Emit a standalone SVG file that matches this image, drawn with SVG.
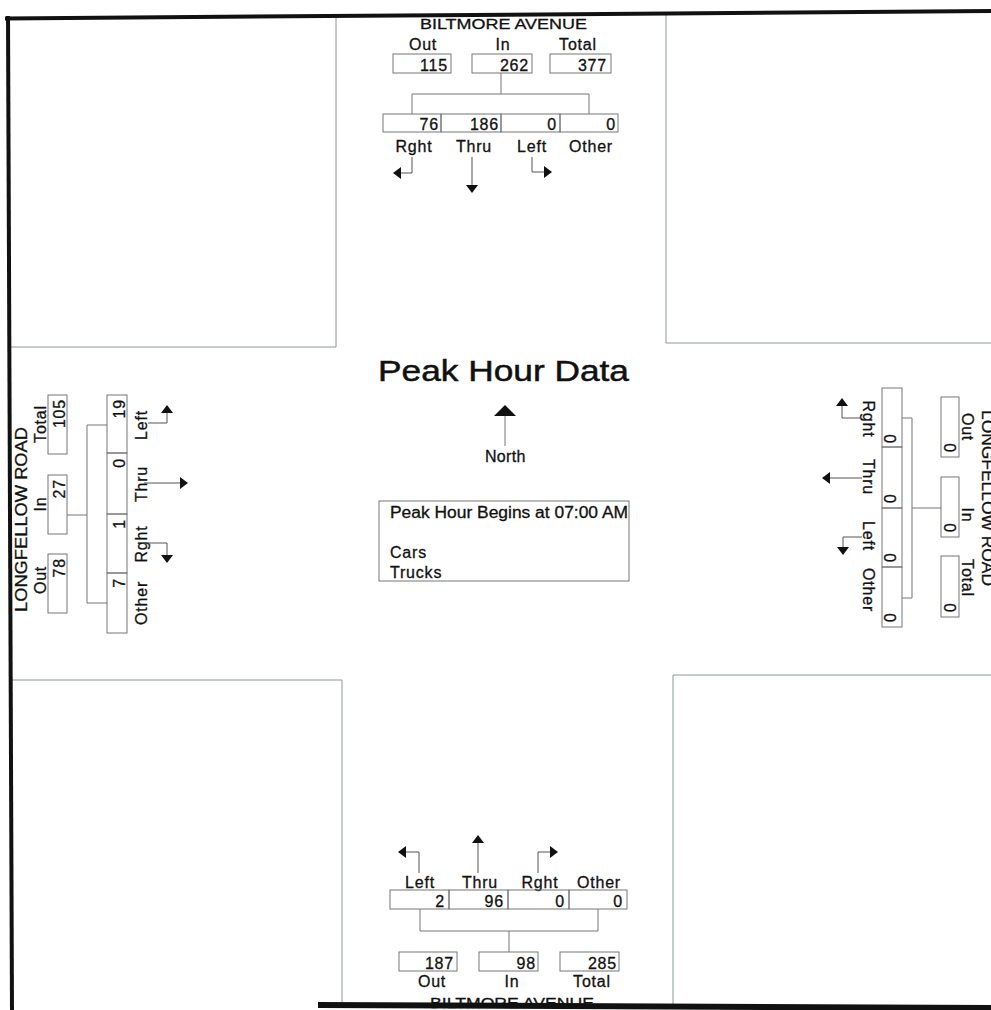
<svg xmlns="http://www.w3.org/2000/svg" width="991" height="1010" viewBox="0 0 991 1010">
<style>
.t{font-family:"Liberation Sans",Arial,sans-serif;font-size:16px;fill:#111;stroke:#111;stroke-width:0.3;letter-spacing:0.8px}
.m{text-anchor:middle}
.e{text-anchor:end}
.box{fill:none;stroke:#777;stroke-width:1}
.corner{fill:none;stroke:#8c9696;stroke-width:1}
.frame{fill:none;stroke:#111;stroke-width:4}
.conn{fill:none;stroke:#777;stroke-width:1}
.arr{fill:none;stroke:#555;stroke-width:1;marker-end:url(#ah)}
</style>
<defs>
<marker id="ah" markerUnits="userSpaceOnUse" viewBox="0 0 8 12" markerWidth="8" markerHeight="12" refX="0" refY="6" orient="auto">
<path d="M0,0 L8,6 L0,12 z" fill="#111"/>
</marker>
</defs>
<rect width="991" height="1010" fill="#fff"/>

<g id="corners">
<path class="corner" d="M336,17 V347 H10"/>
<path class="corner" d="M666,12 V343 H991"/>
<path class="corner" d="M10,680 H342 V1008"/>
<path class="corner" d="M673,1008 V675 H991"/>
</g>

<g id="title">
<text class="t" x="378" y="381" textLength="251" lengthAdjust="spacingAndGlyphs" style="font-size:30px;letter-spacing:0;stroke-width:0.5">Peak Hour Data</text>
</g>

<g id="north-arrow">
<polygon points="505,405 494,416 516,416" fill="#111"/>
<line x1="505" y1="416" x2="505" y2="446" stroke="#777" stroke-width="1"/>
<text class="t" x="485" y="462" style="letter-spacing:0.3px">North</text>
</g>

<g id="info-box">
<rect class="box" x="379" y="501" width="250" height="80" stroke="#888"/>
<text class="t" x="390" y="518" textLength="238" lengthAdjust="spacingAndGlyphs" style="letter-spacing:0">Peak Hour Begins at 07:00 AM</text>
<text class="t" x="390" y="558">Cars</text>
<text class="t" x="390" y="578">Trucks</text>
</g>

<g id="north-approach">
<text class="t" x="420" y="29" textLength="167" lengthAdjust="spacingAndGlyphs" style="font-size:15px;letter-spacing:0">BILTMORE AVENUE</text>
<text class="t m" x="423" y="50">Out</text>
<text class="t m" x="503" y="50">In</text>
<text class="t m" x="578" y="50">Total</text>
<rect class="box" x="393" y="54" width="58" height="19"/>
<rect class="box" x="472" y="54" width="60" height="19"/>
<rect class="box" x="550" y="54" width="61" height="19"/>
<text class="t e" x="448" y="71">115</text>
<text class="t e" x="529" y="71">262</text>
<text class="t e" x="607" y="71">377</text>
<rect class="box" x="383" y="114" width="58" height="18"/>
<rect class="box" x="441" y="114" width="60" height="18"/>
<rect class="box" x="501" y="114" width="59" height="18"/>
<rect class="box" x="560" y="114" width="58" height="18"/>
<text class="t e" x="439" y="130">76</text>
<text class="t e" x="499" y="130">186</text>
<text class="t e" x="557" y="130">0</text>
<text class="t e" x="616" y="130">0</text>
<text class="t m" x="414" y="152">Rght</text>
<text class="t m" x="474" y="152">Thru</text>
<text class="t m" x="532" y="152">Left</text>
<text class="t m" x="591" y="152">Other</text>
</g>

<g id="south-approach">
<text class="t m" x="420" y="888">Left</text>
<text class="t m" x="480" y="888">Thru</text>
<text class="t m" x="540" y="888">Rght</text>
<text class="t m" x="599" y="888">Other</text>
<rect class="box" x="390" y="890" width="59" height="19"/>
<rect class="box" x="449" y="890" width="59" height="19"/>
<rect class="box" x="508" y="890" width="61" height="19"/>
<rect class="box" x="569" y="890" width="58" height="19"/>
<text class="t e" x="445" y="907">2</text>
<text class="t e" x="504" y="907">96</text>
<text class="t e" x="565" y="907">0</text>
<text class="t e" x="623" y="907">0</text>
<rect class="box" x="399" y="952" width="58" height="19"/>
<rect class="box" x="479" y="952" width="59" height="19"/>
<rect class="box" x="560" y="952" width="59" height="19"/>
<text class="t e" x="454" y="969">187</text>
<text class="t e" x="536" y="969">98</text>
<text class="t e" x="617" y="969">285</text>
<text class="t m" x="432" y="987">Out</text>
<text class="t m" x="512" y="987">In</text>
<text class="t m" x="592" y="987">Total</text>
<text class="t" x="430" y="1008" textLength="164" lengthAdjust="spacingAndGlyphs" style="font-size:15px;letter-spacing:0">BILTMORE AVENUE</text>
</g>

<g id="west-approach">
<text class="t" transform="translate(27,612) rotate(-90)" textLength="185" lengthAdjust="spacingAndGlyphs" style="letter-spacing:0">LONGFELLOW ROAD</text>
<text class="t m" transform="translate(46,424) rotate(-90)">Total</text>
<text class="t m" transform="translate(46,504) rotate(-90)">In</text>
<text class="t m" transform="translate(46,580) rotate(-90)">Out</text>
<rect class="box" x="48" y="395" width="19" height="59"/>
<rect class="box" x="48" y="475" width="19" height="59"/>
<rect class="box" x="48" y="554" width="19" height="59"/>
<text class="t e" transform="translate(65,399) rotate(-90)">105</text>
<text class="t e" transform="translate(65,479) rotate(-90)">27</text>
<text class="t e" transform="translate(65,558) rotate(-90)">78</text>
<rect class="box" x="107" y="395" width="20" height="58"/>
<rect class="box" x="107" y="453" width="20" height="61"/>
<rect class="box" x="107" y="514" width="20" height="59"/>
<rect class="box" x="107" y="573" width="20" height="60"/>
<text class="t e" transform="translate(125,399) rotate(-90)">19</text>
<text class="t e" transform="translate(125,458) rotate(-90)">0</text>
<text class="t e" transform="translate(125,519) rotate(-90)">1</text>
<text class="t e" transform="translate(125,578) rotate(-90)">7</text>
<text class="t m" transform="translate(147,425) rotate(-90)">Left</text>
<text class="t m" transform="translate(147,484) rotate(-90)">Thru</text>
<text class="t m" transform="translate(147,544) rotate(-90)">Rght</text>
<text class="t m" transform="translate(147,603) rotate(-90)">Other</text>
</g>

<g id="east-approach">
<text class="t" transform="translate(982,410) rotate(90)" textLength="176" lengthAdjust="spacingAndGlyphs" style="letter-spacing:0">LONGFELLOW ROAD</text>
<rect class="box" x="941" y="397" width="18" height="60"/>
<rect class="box" x="941" y="477" width="18" height="60"/>
<rect class="box" x="941" y="556" width="18" height="61"/>
<text class="t m" transform="translate(962,427) rotate(90)">Out</text>
<text class="t m" transform="translate(962,515) rotate(90)">In</text>
<text class="t m" transform="translate(962,578) rotate(90)">Total</text>
<text class="t e" transform="translate(944,453) rotate(90)">0</text>
<text class="t e" transform="translate(944,533) rotate(90)">0</text>
<text class="t e" transform="translate(944,613) rotate(90)">0</text>
<rect class="box" x="882" y="388" width="20" height="59"/>
<rect class="box" x="882" y="447" width="20" height="61"/>
<rect class="box" x="882" y="508" width="20" height="59"/>
<rect class="box" x="882" y="567" width="20" height="60"/>
<text class="t e" transform="translate(884,444) rotate(90)">0</text>
<text class="t e" transform="translate(884,504) rotate(90)">0</text>
<text class="t e" transform="translate(884,563) rotate(90)">0</text>
<text class="t e" transform="translate(884,623) rotate(90)">0</text>
<text class="t m" transform="translate(863,419) rotate(90)">Rght</text>
<text class="t m" transform="translate(863,477) rotate(90)">Thru</text>
<text class="t m" transform="translate(863,536) rotate(90)">Left</text>
<text class="t m" transform="translate(863,590) rotate(90)">Other</text>
</g>

<g id="connectors">
<path class="conn" d="M501,73 V94 M412,114 V94 H589 V114"/>
<path class="conn" d="M420,909 V931 H598 V909 M509,931 V952"/>
<path class="conn" d="M67,515 H87 M107,425 H87 V603 H107"/>
<path class="conn" d="M941,508 H912 M902,418 H912 V598 H902"/>
<path class="arr" d="M412,157 V173 H401"/>
<path class="arr" d="M472,157 V185"/>
<path class="arr" d="M532,157 V172 H544"/>
<path class="arr" d="M419,873 V852 H406"/>
<path class="arr" d="M478,873 V843"/>
<path class="arr" d="M538,873 V852 H550"/>
<path class="arr" d="M148,423 H167 V413"/>
<path class="arr" d="M144,483 H180"/>
<path class="arr" d="M143,543 H167 V555"/>
<path class="arr" d="M860,418 H842 V406"/>
<path class="arr" d="M862,478 H830"/>
<path class="arr" d="M862,537 H843 V547"/>
</g>

<g id="frame">
<line class="frame" x1="5" y1="18.5" x2="991" y2="11"/>
<line class="frame" x1="8" y1="16" x2="12" y2="1010"/>
<line class="frame" x1="318" y1="1005" x2="991" y2="1008" style="stroke-width:6"/>
</g>
</svg>
